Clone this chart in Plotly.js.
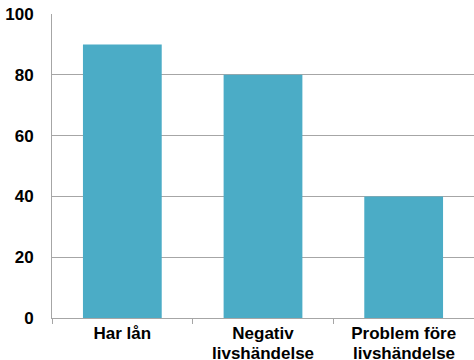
<!DOCTYPE html>
<html>
<head>
<meta charset="utf-8">
<script src="https://cdn.plot.ly/plotly-3.0.1.min.js"></script>
<style>
  html, body { margin: 0; padding: 0; background: #fff; }
  #chart { width: 474px; height: 360px; }
</style>
</head>
<body>
<div id="chart"></div>
<script>
// Andel (%) per grupp
const categories = ["Har lån", "Negativ livshändelse", "Problem före livshändelse"];
const labelLine1 = ["Har lån", "Negativ", "Problem före"];
const labelLine2 = ["", "livshändelse", "livshändelse"];
const values = [90, 80, 40];
const yTicks = [0, 20, 40, 60, 80, 100];

const barColor = "#4BACC6";
const gridColor = "#A6A6A6";
const family = "Liberation Sans, Arial, sans-serif";
const boldFont = { family: family, size: 17, color: "#000", weight: "bold" };

// second label lines placed just under the first, with tighter line spacing
const secondLines = categories.map((c, i) => ({
  xref: "x", yref: "paper",
  x: c, y: 0,
  xanchor: "center", yanchor: "top",
  yshift: -24,
  text: labelLine2[i],
  showarrow: false,
  font: boldFont
})).filter(a => a.text);

Plotly.newPlot("chart", [{
  type: "bar",
  x: categories,
  y: values,
  marker: { color: barColor },
  hoverinfo: "none"
}], {
  width: 474,
  height: 360,
  margin: { l: 52, r: 0, t: 14, b: 42 },
  paper_bgcolor: "#fff",
  plot_bgcolor: "#fff",
  bargap: 0.44,
  showlegend: false,
  font: { family: family, size: 17, color: "#000" },
  annotations: secondLines,
  xaxis: {
    type: "category",
    tickmode: "array",
    tickvals: categories,
    ticktext: labelLine1,
    showgrid: false,
    showline: true,
    linecolor: gridColor,
    linewidth: 1,
    ticks: "outside",
    tickson: "boundaries",
    ticklen: 5,
    tickcolor: gridColor,
    tickfont: boldFont,
    fixedrange: true
  },
  yaxis: {
    range: [0, 100],
    tickvals: yTicks,
    ticktext: yTicks.map(String),
    showgrid: true,
    gridcolor: gridColor,
    gridwidth: 1,
    zeroline: false,
    showline: true,
    linecolor: gridColor,
    ticks: "",
    ticklabelstandoff: 14,
    tickfont: boldFont,
    fixedrange: true
  }
}, { displayModeBar: false, staticPlot: true });
</script>
</body>
</html>
